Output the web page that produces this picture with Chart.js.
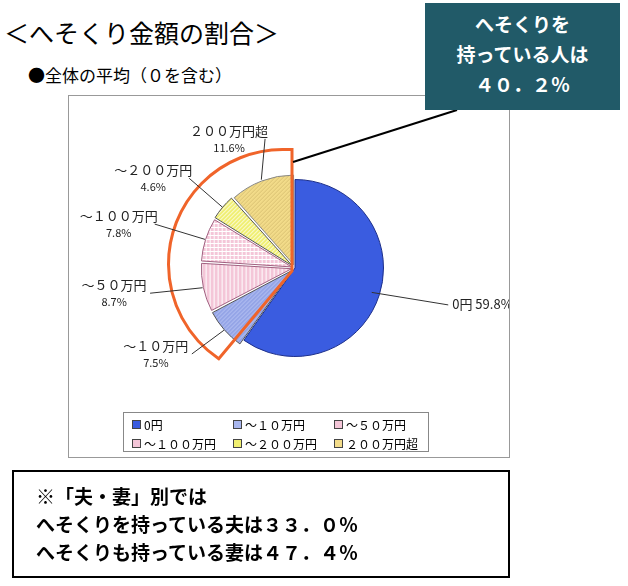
<!DOCTYPE html>
<html><head><meta charset="utf-8">
<script src="https://cdn.jsdelivr.net/npm/chart.js@4"></script>
<style>
body{margin:0;width:628px;height:586px;background:#fff;position:relative;font-family:"Noto Sans CJK JP",sans-serif;overflow:hidden}
.t{position:absolute;white-space:nowrap}
#box{position:absolute;left:68px;top:95px;width:442px;height:363px;border:1px solid #999;box-sizing:border-box}
#teal{position:absolute;left:425px;top:3px;width:195px;height:107px;background:#215a68;color:#fff;font-size:19px;line-height:30px;text-align:center;font-weight:bold;padding-top:6px;box-sizing:border-box}
#note{position:absolute;left:12px;top:470px;width:498px;height:108px;border:2px solid #000;box-sizing:border-box;font-size:19px;font-weight:bold;line-height:28px;padding:10px 0 0 22px}
#legend{position:absolute;left:123px;top:412px;width:306px;height:40px;border:1px solid #888;box-sizing:border-box;font-size:12px}
.li{position:absolute;display:flex;align-items:center}
.sw{width:7px;height:7px;border:1px solid #444;margin-right:3px}
</style></head><body>
<div class="t" style="left:4px;top:14px;font-size:25px">＜へそくり金額の割合＞</div>
<div class="t" style="left:28px;top:62px;font-size:17px">●全体の平均（０を含む）</div>
<div id="box"><canvas id="c" width="440" height="361"></canvas></div>
<svg style="position:absolute;left:0;top:0" width="628" height="586"><line x1="293" y1="162" x2="457" y2="110" stroke="#000" stroke-width="2"/></svg>
<div id="teal">へそくりを<br>持っている人は<br>４０．２％</div>
<div id="legend"></div>
<div id="note">※「夫・妻」別では<br>へそくりを持っている夫は３３．０％<br>へそくりも持っている妻は４７．４％</div>
<script>
const categories=["0円","～１０万円","～５０万円","～１００万円","～２００万円","２００万円超"];
const values=[59.8,7.5,8.7,7.8,4.6,11.6];
const baseColors=["#3a5ce0","#a8b6ee","#f4c6d8","#f4c6d8","#f0ef70","#f3dc8a"];
const stripeColors=[null,"#7f92e0","#ffffff","#ffffff","#ffffff","#d8c070"];
const stripeDir=[null,"d","v","h","d","d"];
function pat(bg,st,dir){
  const c=document.createElement('canvas');c.width=c.height=4;const g=c.getContext('2d');
  g.fillStyle=bg;g.fillRect(0,0,4,4);
  if(st){g.fillStyle=st;
    if(dir==='v')g.fillRect(0,0,1,4);
    else if(dir==='h'){g.fillRect(0,0,4,1);g.fillRect(0,0,1,4);}
    else{for(let i=0;i<4;i++)g.fillRect(i,3-i,1,1);}}
  return document.getElementById('c').getContext('2d').createPattern(c,'repeat');
}
const fills=baseColors.map((b,i)=>pat(b,stripeColors[i],stripeDir[i]));
const lg=document.getElementById('legend');
categories.forEach((n,i)=>{const d=document.createElement('div');d.className='li';
 d.style.left=(8+(i%3)*101)+'px';d.style.top=(3+Math.floor(i/3)*19)+'px';
 d.innerHTML='<span class="sw" style="background:'+baseColors[i]+'"></span>'+n;lg.appendChild(d);});
const deco={id:'deco',afterDraw(ch){
  const g=ch.ctx,arcs=ch.getDatasetMeta(0).data,a0=arcs[0];
  const cx=a0.x,cy=a0.y,r=a0.outerRadius;
  const s=arcs[1].startAngle,e=arcs[5].endAngle;
  const ox=cx-12,oy=cy-4,R=r+26;
  g.save();g.strokeStyle='#f0642a';g.lineWidth=3;g.beginPath();
  g.moveTo(cx-3,cy+3);g.lineTo(cx-3,oy-R);
  g.arc(ox,oy,R,e-0.005,s-0.02,true);g.closePath();g.stroke();
  g.fillStyle='#222';g.strokeStyle='#333';g.lineWidth=1;
  arcs.forEach((a,i)=>{
    const m=(a.startAngle+a.endAngle)/2,off=i?14:0;
    const px=cx+Math.cos(m)*(r+off-8),py=cy+Math.sin(m)*(r+off-8);
    const lx=cx+Math.cos(m)*(i?185:165),ly=cy+Math.sin(m)*135;
    g.beginPath();g.moveTo(px,py);g.lineTo(i?lx+(lx<cx?36:0):lx-4,ly+(i?-3:-4));g.stroke();
    g.font='13px "Noto Sans CJK JP"';
    if(i===0){g.textAlign='left';g.fillText(categories[i]+' '+values[i]+'%',lx,ly);}
    else{g.textAlign='center';g.fillText(categories[i],lx,ly-6);
      g.font='11px "Noto Sans CJK JP"';g.fillText(values[i]+'%',lx,ly+10);}
  });
  g.restore();
}};
new Chart(document.getElementById('c'),{type:'pie',
 data:{labels:categories,datasets:[{data:values,backgroundColor:fills,
   borderColor:["#1d2f8a","#555","#a06080","#a06080","#555","#888"],borderWidth:1,
   offset:[0,14,14,14,14,14]}]},
 options:{responsive:false,animation:false,
   layout:{padding:{left:130,right:118,top:75,bottom:92}},
   plugins:{legend:{display:false},tooltip:{enabled:false}}},
 plugins:[deco]});
</script></body></html>
